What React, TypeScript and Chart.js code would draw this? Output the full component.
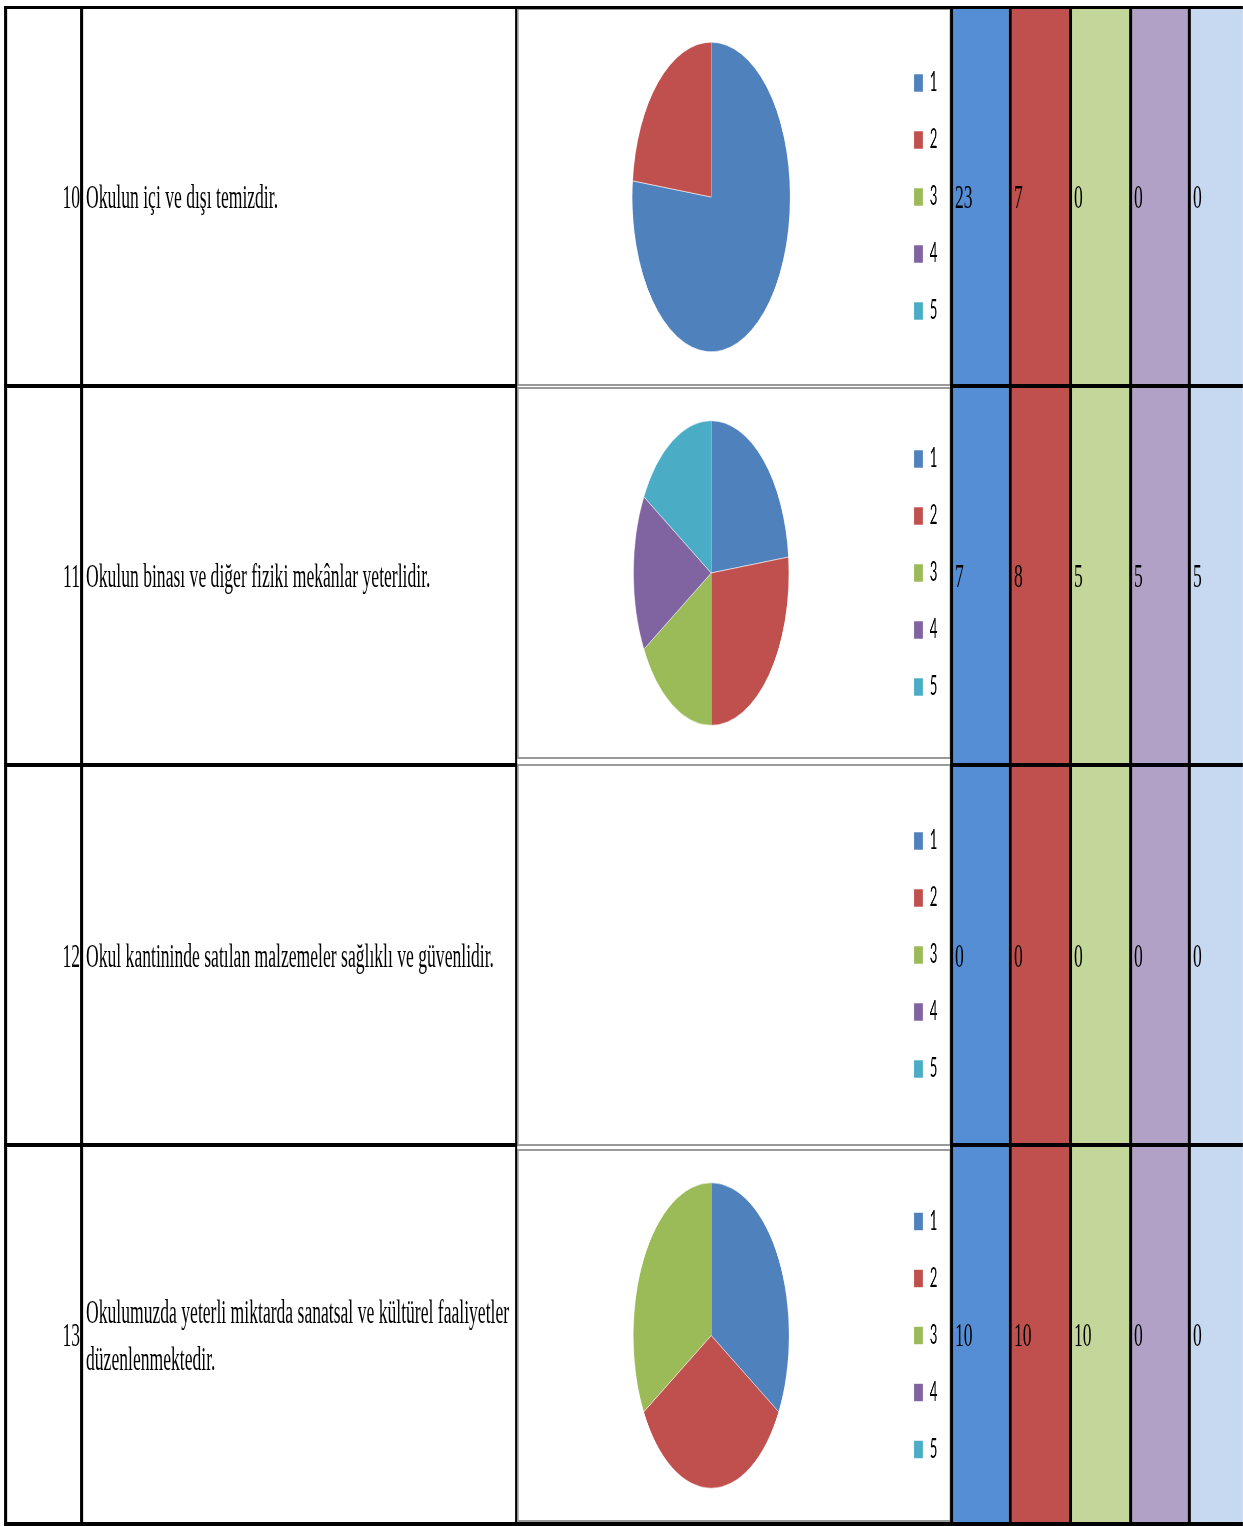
import React, { useEffect, useRef } from 'react';
import { Chart, registerables } from 'chart.js';

Chart.register(...registerables);

// ---------------- data ----------------
const categories = ['1', '2', '3', '4', '5'];
const questionNumbers = ['10', '11', '12', '13'];
const questionTexts = [
  'Okulun içi ve dışı temizdir.',
  'Okulun binası ve diğer fiziki mekânlar yeterlidir.',
  'Okul kantininde satılan malzemeler sağlıklı ve güvenlidir.',
  'Okulumuzda yeterli miktarda sanatsal ve kültürel faaliyetler\ndüzenlenmektedir.',
];
const answers10 = [23, 7, 0, 0, 0];
const answers11 = [7, 8, 5, 5, 5];
const answers12 = [0, 0, 0, 0, 0];
const answers13 = [10, 10, 10, 0, 0];
const allAnswers = [answers10, answers11, answers12, answers13];

// ---------------- styles ----------------
const pieColors = ['#4F81BD', '#C0504D', '#9BBB59', '#8064A2', '#4BACC6'];
const columnColors = ['#558ED5', '#C0504D', '#C4D79B', '#B2A1C7', '#C6D9F1'];

const S = 0.51; // horizontal squeeze of the whole page
const nx = (f: number) => f / S;

const W = 1243;
const H = 1526;
const serif = '"Liberation Serif", "Times New Roman", serif';
const fontSize = 34.5;

// horizontal black lines: [y, thickness, full width?]
const hLines: [number, number, boolean][] = [
  [6, 3, true],
  [384, 4, false],
  [763, 4, false],
  [1143, 4, false],
  [1522, 4, true],
];
const vLines: [number, number][] = [
  [4, 3],
  [80, 3],
  [515, 2],
  [950, 3],
  [1009, 3],
  [1069, 3],
  [1129, 3],
  [1188, 3],
];
const rowBands: [number, number][] = [
  [9, 384],
  [388, 763],
  [767, 1143],
  [1147, 1522],
];
const chartBoxes: [number, number][] = [
  [8, 386],
  [387, 759],
  [764, 1146],
  [1149, 1522],
];
const valueCols: [number, number][] = [
  [953, 1009],
  [1012, 1069],
  [1072, 1129],
  [1132, 1188],
  [1191, 1243],
];

function PieChart({ values }: { values: number[] }) {
  const ref = useRef<HTMLCanvasElement>(null);
  useEffect(() => {
    const chart = new Chart(ref.current as HTMLCanvasElement, {
      type: 'pie',
      data: {
        labels: categories,
        datasets: [
          {
            data: values,
            backgroundColor: pieColors,
            borderColor: 'rgba(255,255,255,0.55)',
            borderWidth: 1,
          },
        ],
      },
      options: {
        animation: false,
        responsive: true,
        maintainAspectRatio: false,
        events: [],
        radius: '83%',
        layout: { padding: { top: 0, bottom: 0, left: 11, right: 14 } },
        plugins: {
          tooltip: { enabled: false },
          legend: {
            position: 'right',
            align: 'center',
            labels: {
              boxWidth: 18,
              boxHeight: 18,
              padding: 31,
              color: '#000',
              font: { family: 'Lato', size: 26 },
            },
          },
        },
      } as any,
    });
    return () => chart.destroy();
  }, [values]);
  return (
    <div style={{ position: 'absolute', left: 0, top: 0, right: 0, bottom: 0 }}>
      <canvas ref={ref} />
    </div>
  );
}

export default function App() {
  const abs = (l: number, t: number, w: number, h: number, extra: React.CSSProperties = {}) =>
    ({ position: 'absolute', left: nx(l), top: t, width: nx(w), height: h, ...extra } as React.CSSProperties);

  return (
    <>
      <style>{`html,body{margin:0;padding:0;background:#fff;}`}</style>
      <div style={{ position: 'relative', width: W, height: H, overflow: 'hidden', background: '#fff' }}>
        <div
          style={{
            position: 'absolute',
            left: 0,
            top: 0,
            width: nx(W),
            height: H,
            transform: `scaleX(${S})`,
            transformOrigin: '0 0',
          }}
        >
          {/* value column fills */}
          {valueCols.map(([a, b], i) => (
            <div key={'vc' + i} style={abs(a, 6, b - a, H - 6, { background: columnColors[i] })} />
          ))}

          {/* chart boxes */}
          {chartBoxes.map(([t, b], i) => (
            <div
              key={'cb' + i}
              style={abs(517, t, 951 - 517, b - t, {
                boxSizing: 'border-box',
                borderStyle: 'solid',
                borderColor: '#9a9a9a',
                borderTopWidth: 2,
                borderBottomWidth: 2,
                borderLeftWidth: nx(2),
                borderRightWidth: nx(2),
                background: '#fff',
              })}
            >
              <PieChart values={allAnswers[i]} />
            </div>
          ))}

          {/* horizontal black lines */}
          {hLines.map(([y, th, full], i) =>
            full ? (
              <div key={'h' + i} style={abs(4, y, W - 4, th, { background: '#000' })} />
            ) : (
              <React.Fragment key={'h' + i}>
                <div style={abs(4, y, 517 - 4, th, { background: '#000' })} />
                <div style={abs(950, y, W - 950, th, { background: '#000' })} />
              </React.Fragment>
            )
          )}

          {/* vertical black lines */}
          {vLines.map(([x, w], i) => (
            <div key={'v' + i} style={abs(x, 6, w, 1526 - 6, { background: '#000' })} />
          ))}

          {/* question numbers, texts and counts */}
          {rowBands.map(([t, b], i) => (
            <React.Fragment key={'r' + i}>
              <div
                style={abs(7, t, 80 - 7, b - t, {
                  display: 'flex',
                  alignItems: 'center',
                  justifyContent: 'flex-end',
                  fontFamily: serif,
                  fontSize,
                  color: '#000',
                  whiteSpace: 'nowrap',
                })}
              >
                {questionNumbers[i]}
              </div>
              <div
                style={abs(86, t, 515 - 86, b - t, {
                  display: 'flex',
                  alignItems: 'center',
                  fontFamily: serif,
                  fontSize,
                  lineHeight: '47px',
                  color: '#000',
                  whiteSpace: 'pre',
                })}
              >
                {questionTexts[i]}
              </div>
              {valueCols.map(([a, bb], j) => (
                <div
                  key={'val' + j}
                  style={abs(a + 2, t, bb - a - 2, b - t, {
                    display: 'flex',
                    alignItems: 'center',
                    fontFamily: serif,
                    fontSize,
                    color: '#000',
                    whiteSpace: 'nowrap',
                  })}
                >
                  {String(allAnswers[i][j])}
                </div>
              ))}
            </React.Fragment>
          ))}
        </div>
      </div>
    </>
  );
}
